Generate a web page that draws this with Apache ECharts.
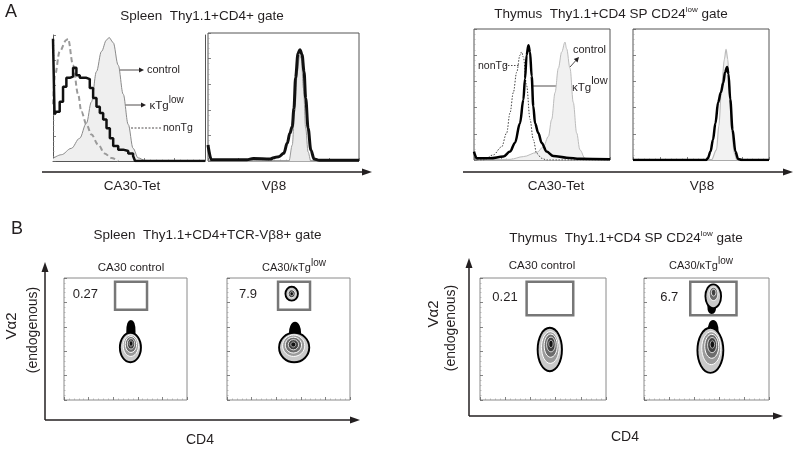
<!DOCTYPE html>
<html><head><meta charset="utf-8">
<script src="https://cdn.jsdelivr.net/npm/echarts@6/dist/echarts.min.js"></script>
<style>html,body{margin:0;padding:0;background:#fff}#c{width:800px;height:451px}</style>
</head><body><div id="c"></div>
<script>
// ---------------- DATA ----------------
// Panel A: histograms, [channel (0-100), % of max]
const spleenTetControl = [[0,2],[5.5,5],[12,10],[17.5,18],[22,30],[25.3,47],[28.6,71],[31.9,87],[35.2,96],[36.9,98],[39.6,94],[42.9,76],[46.2,53],[49.5,29],[52.7,10],[56,2.5],[60.4,0.5],[70,0],[100,0]];
const spleenTetNonTg = [[0,45],[1.3,68],[4.4,87],[8.8,96],[9.9,97],[13.2,76],[16.5,53],[18.7,39],[22,29],[25.3,21],[29.7,13],[34,6],[38.5,2.4],[42.9,0]];
const spleenTetKtg = [[0,97],[1,37],[2.2,39],[4.4,47],[6.6,59],[8.8,66],[11,67],[13.2,74],[15.4,68],[17.6,66],[19.8,66],[22,65],[24.2,58],[26.4,50],[28.6,43],[30.8,38],[33,33],[35.2,26],[37.4,18],[39.6,12],[42.9,9],[46.2,8],[49.5,6],[52.7,4],[54,0],[100,0]];
const spleenVb8Control = [[0,0],[53.6,0],[55.8,12.5],[57.4,38.6],[59.2,70],[60.7,83],[61.8,80],[63.2,57],[64.7,25.6],[66.3,7],[68.1,0],[100,0]];
const spleenVb8Ktg = [[0,12.5],[2.2,1],[25.7,1],[30,2],[41.3,1.5],[43.5,2.6],[46.9,3.4],[50.2,6],[52.5,14],[54.2,21.7],[55.8,27],[56.9,41],[58,65],[59.6,84],[60.9,87],[62.3,83],[63.6,70],[64.7,49],[66.3,25.6],[68.1,8.6],[70.3,1.5],[73.7,0.5],[100,0.5]];
const thymusTetControl = [[0,0],[26.5,0.5],[36.3,2.6],[46.1,5.7],[51,10],[54.7,18],[57.1,31],[59.6,51.5],[62,70],[64.5,82.5],[66.9,90],[68.1,85],[70.6,70],[73,44],[75.5,20.6],[77.9,7.7],[81.6,1.3],[85.3,0],[100,0]];
const thymusTetNonTg = [[0,0],[6.9,0],[14.2,3.9],[20.3,10],[24,20.6],[26.5,36],[28.9,51.5],[31.4,67],[33.8,80],[35,82.5],[36.3,78.6],[38.7,56.7],[41.2,31],[43.6,15.5],[46.1,5],[49.8,1.3],[53.4,0],[100,0]];
const thymusTetKtg = [[0,6.4],[2,1.3],[11.8,1.3],[21.6,2.6],[26.5,6.4],[30.1,13],[33.8,28],[36.3,46],[37.5,62],[38.7,80],[40,87.6],[41.2,82.5],[42.4,64],[43.6,41],[44.9,28],[47.3,20.6],[49.8,13],[53.4,6.4],[58.3,3.1],[68.1,1.8],[77.9,1],[100,0.5]];
const thymusVb8Control = [[0,0],[57.6,0],[61.4,7.7],[63.1,25.8],[65.2,56.7],[67.2,77],[68.4,84.5],[69.7,77],[71,51.5],[72.7,20.6],[74.5,5],[76.5,0],[100,0]];
const thymusVb8Ktg = [[0,0],[53.8,0],[55,1.3],[57,6.4],[58.8,15.5],[60.6,28],[62.6,44],[64.6,51.5],[66.4,59],[67.7,67],[69.2,71],[70.2,65.7],[71.5,46.4],[73.2,23],[75.3,6.4],[77.3,0.8],[80.3,0],[100,0]];

// Panel B: density contours [cx, cy, rx, ry, level]  (0 = outer outline, 1 = outer fill, 2-5 inner levels)
const spleenCtrlContours = [[54.4,56,2.2,8,0],[54,43,7.8,11.3,0],[54,43,7.8,11.3,1],[54.3,44.5,6.2,8.8,2],[54.4,45.5,4.6,6.5,3],[54.5,46,3,4.3,4],[54.5,46.3,1.5,2.2,5]];
const spleenKtgContours = [[55.3,55,3.4,7.5,0],[54.6,43,11.5,11.3,0],[54.6,43,11.5,11.3,1],[54.2,44.5,9,8.8,2],[54,45,6.6,6.5,3],[54,45.3,4.2,4.2,4],[53.9,45.5,2,2,5],[52.6,87.1,4.3,4.9,0],[52.6,87.1,4.3,4.9,1],[52.6,87.1,2.8,3.2,4],[52.6,87.1,1.4,1.6,5]];
const thymusCtrlContours = [[55.4,41.4,8.9,17,0],[55.4,41.4,8.9,17,1],[55.8,43,7,13,2],[56.1,44.5,5.2,9.5,3],[56.3,45.5,3.4,6,4],[56.3,46,1.7,3,5]];
const thymusKtgContours = [[55.3,57,2.8,7,0],[53.1,40.7,9.6,17.7,0],[53.1,40.7,9.6,17.7,1],[53.8,42.5,7.6,13.5,2],[54.2,44,5.6,9.8,3],[54.5,45,3.6,6.2,4],[54.7,45.5,1.8,3,5],[54.2,77,2,5,0],[55.4,85,5.5,9,0],[55.4,85,5.5,9,1],[55.6,87,3.5,5.5,3],[55.7,88,1.8,2.8,4]];
// gates [x1, y1, x2, y2] and gate frequencies
const spleenGate = [41.5,74,67.5,97];
const thymusGate = [37,69.5,74,97];
const gateFreq = ['0.27','7.9','0.21','6.7'];

// ---------------- HELPERS ----------------
const FONT = '"Liberation Sans", Arial, Helvetica, sans-serif';
const INK = '#231f20';
const mctx = document.createElement('canvas').getContext('2d');
function textW(s,size){ mctx.font = size+'px '+FONT; return mctx.measureText(s).width; }
function txt(x,y,s,size,align,extra){
  align = align||'center';
  return Object.assign({type:'text', x:x, y:y, silent:true, style:{text:s, fontSize:size, fontFamily:FONT, fill:INK, align:align, textAlign:align, verticalAlign:'middle', textVerticalAlign:'middle'}}, extra||{});
}
function multi(cx,y,parts,anchor){
  const ws = parts.map(p=>textW(p[0],p[1]));
  const total = ws.reduce((a,b)=>a+b,0);
  let x = anchor==='left' ? cx : cx-total/2;
  return parts.map((p,i)=>{ const e = txt(x, y+(p[2]||0), p[0], p[1], 'left'); x += ws[i]; return e; });
}
function arrow(x1,y1,x2,y2,lw,head,hw){
  const a = Math.atan2(y2-y1,x2-x1);
  const bx = x2-head*Math.cos(a), by = y2-head*Math.sin(a);
  const px = -Math.sin(a)*hw/2, py = Math.cos(a)*hw/2;
  return [
    {type:'line', silent:true, shape:{x1:x1,y1:y1,x2:bx+0.5*Math.cos(a),y2:by+0.5*Math.sin(a)}, style:{stroke:INK, lineWidth:lw}},
    {type:'polygon', silent:true, shape:{points:[[x2,y2],[bx+px,by+py],[bx-px,by-py]]}, style:{fill:INK}}
  ];
}

// ---------------- LAYOUT ----------------
const grids = [
  {left:53, top:35, width:152, height:126},
  {left:208, top:33, width:151, height:128},
  {left:474, top:29, width:136, height:131},
  {left:633, top:29, width:136, height:131},
  {left:64, top:278, width:123, height:122},
  {left:227, top:278, width:123, height:122},
  {left:480, top:278, width:126, height:122},
  {left:644, top:278, width:125, height:122}
].map((g,i)=>Object.assign(g,{show:i>0, borderColor:i<4?'#555':'#8a8a8a', borderWidth:1, containLabel:false}));

function axis(i,dir){
  return {gridIndex:i, type:'value', min:0, max:100, interval:20, position: dir==='x'?'bottom':'left',
    axisLine:{show:i===0, onZero:false, lineStyle:{color:'#555', width:1}},
    axisTick:{show:true, inside:true, length:3, lineStyle:{color:'#666', width:0.8}},
    minorTick:{show:true, splitNumber:5, length:1.5, lineStyle:{color:'#999', width:0.6}},
    axisLabel:{show:false}, splitLine:{show:false}, minorSplitLine:{show:false}};
}
const xAxes = grids.map((g,i)=>axis(i,'x'));
const yAxes = grids.map((g,i)=>axis(i,'y'));
yAxes.push({gridIndex:0, type:'value', min:0, max:100, position:'right', axisLine:{show:true, onZero:false, lineStyle:{color:'#555', width:1}}, axisTick:{show:false}, axisLabel:{show:false}, splitLine:{show:false}});

function hist(i,data,style){
  return Object.assign({type:'line', xAxisIndex:i, yAxisIndex:i, data:data, showSymbol:false, symbol:'none', silent:true, smooth:0.35, smoothMonotone:'x'}, style);
}
const LEVELS = {
  '0':{fill:'#000', stroke:'#000', lw:3.8},
  '1':{fill:'#c9c9c9', stroke:null, lw:0},
  '2':{fill:'#9a9a9a', stroke:'#fff', lw:1},
  '3':{fill:'#6c6c6c', stroke:'#fff', lw:1},
  '4':{fill:'#404040', stroke:'#fff', lw:0.8},
  '5':{fill:'#121212', stroke:'#fff', lw:0.6}
};
function contourSeries(i,data){
  return {type:'custom', xAxisIndex:i, yAxisIndex:i, data:data, silent:true,
    renderItem:function(p,api){
      const c = api.coord([api.value(0),api.value(1)]);
      const s = api.size([api.value(2),api.value(3)]);
      const L = LEVELS[String(api.value(4))];
      return {type:'ellipse', shape:{cx:c[0], cy:c[1], rx:s[0], ry:s[1]}, style:{fill:L.fill, stroke:L.stroke, lineWidth:L.lw}};
    }};
}
function gateSeries(i,gate,label,gap){
  return {type:'custom', xAxisIndex:i, yAxisIndex:i, data:[gate], silent:true, z:5,
    renderItem:function(p,api){
      const a = api.coord([api.value(0),api.value(1)]);
      const b = api.coord([api.value(2),api.value(3)]);
      return {type:'group', children:[
        {type:'rect', shape:{x:a[0], y:b[1], width:b[0]-a[0], height:a[1]-b[1]}, style:{fill:'none', stroke:'#777', lineWidth:2.5}},
        {type:'text', x:a[0]-gap, y:(a[1]+b[1])/2 - 1, style:{text:label, fontSize:13, fontFamily:FONT, fill:INK, align:'right', textAlign:'right', verticalAlign:'middle', textVerticalAlign:'middle'}}
      ]};
    }};
}

const series = [
  hist(0, spleenTetControl, {lineStyle:{color:'#8a8a8a', width:1}, areaStyle:{color:'#efefef', opacity:1}}),
  hist(0, spleenTetNonTg, {lineStyle:{color:'#9a9a9a', width:2, type:[5,3]}}),
  hist(0, spleenTetKtg, {smooth:false, step:'end', lineStyle:{color:'#111', width:2.5}}),
  hist(1, spleenVb8Control, {lineStyle:{color:'#999', width:1}, areaStyle:{color:'#eaeaea', opacity:1}}),
  hist(1, spleenVb8Ktg, {lineStyle:{color:'#111', width:3}}),
  hist(2, thymusTetControl, {lineStyle:{color:'#bbb', width:1}, areaStyle:{color:'#f1f1f1', opacity:1}}),
  hist(2, thymusTetNonTg, {lineStyle:{color:'#444', width:1, type:[1.5,1.5]}}),
  hist(2, thymusTetKtg, {lineStyle:{color:'#000', width:2.5}}),
  hist(3, thymusVb8Control, {lineStyle:{color:'#bbb', width:1.2}, areaStyle:{color:'#f2f2f2', opacity:1}}),
  hist(3, thymusVb8Ktg, {lineStyle:{color:'#000', width:2.5}}),
  contourSeries(4, spleenCtrlContours),
  contourSeries(5, spleenKtgContours),
  contourSeries(6, thymusCtrlContours),
  contourSeries(7, thymusKtgContours),
  gateSeries(4, spleenGate, gateFreq[0], 17),
  gateSeries(5, spleenGate, gateFreq[1], 21),
  gateSeries(6, thymusGate, gateFreq[2], 9),
  gateSeries(7, thymusGate, gateFreq[3], 12)
];

// ---------------- ANNOTATIONS ----------------
const g = [];
g.push(txt(11,12,'A',18));
g.push(txt(202,16,'Spleen  Thy1.1+CD4+ gate',13.5));
g.push(...multi(611,14,[['Thymus  Thy1.1+CD4 SP CD24',13.5,0],['low',8,-4],[' gate',13.5,0]]));
g.push(...arrow(42,172,372,172,1.5,10,7));
g.push(...arrow(463,172,793,172,1.5,10,7));
g.push(txt(132,186,'CA30-Tet',13.5));
g.push(txt(274,186,'V\u03b28',13.5));
g.push(txt(556,186,'CA30-Tet',13.5));
g.push(txt(702,186,'V\u03b28',13.5));
// spleen CA30-Tet labels
g.push(...arrow(116,70,144,70,0.8,5,5));
g.push(txt(147,70,'control',11,'left'));
g.push(...arrow(101,105,146,105,0.8,5,5));
g.push(...multi(149.5,106,[['\u03baTg',11.5,0],['low',10,-6]],'left'));
g.push({type:'line', silent:true, shape:{x1:96,y1:128,x2:161,y2:128}, style:{stroke:INK, lineWidth:0.8, lineDash:[2,1.5]}});
g.push(txt(163,128,'nonTg',10.5,'left'));
// thymus CA30-Tet labels
g.push(txt(478,66,'nonTg',10.5,'left'));
g.push({type:'line', silent:true, shape:{x1:505,y1:65.5,x2:519,y2:65.5}, style:{stroke:INK, lineWidth:0.8, lineDash:[1.5,1.5]}});
g.push(txt(573,50,'control',11,'left'));
g.push(...arrow(570,67,579,57,0.8,5,5));
g.push(...arrow(533,86,569,86,0.8,5,5));
g.push(...multi(572,88,[['\u03baTg',11.5,0],['low',11,-7]],'left'));
// Panel B
g.push(txt(17,229,'B',18));
g.push(txt(207.5,235,'Spleen  Thy1.1+CD4+TCR-V\u03b28+ gate',13.5));
g.push(...multi(626,238,[['Thymus  Thy1.1+CD4 SP CD24',13.5,0],['low',8,-4],[' gate',13.5,0]]));
g.push(...arrow(45,420,45,262,1.5,10,7));
g.push(...arrow(45,420,360,420,1.5,10,7));
g.push(...arrow(469,416,469,258,1.5,10,7));
g.push(...arrow(469,416,783,416,1.5,10,7));
g.push(txt(131,268,'CA30 control',11.5));
g.push(...multi(294,268,[['CA30/\u03baTg',11,0],['low',10,-5]]));
g.push(txt(542,266,'CA30 control',11.5));
g.push(...multi(701,266,[['CA30/\u03baTg',11,0],['low',10,-5]]));
g.push(txt(12,326,'V\u03b12',15,'center',{rotation:Math.PI/2}));
g.push(txt(33,330,'(endogenous)',14,'center',{rotation:Math.PI/2}));
g.push(txt(434,314,'V\u03b12',15,'center',{rotation:Math.PI/2}));
g.push(txt(451.5,328,'(endogenous)',14,'center',{rotation:Math.PI/2}));
g.push(txt(200,440,'CD4',14));
g.push(txt(625,437,'CD4',14));

const chart = echarts.init(document.getElementById('c'), null, {renderer:'canvas'});
chart.setOption({
  animation:false,
  backgroundColor:'#fff',
  grid:grids, xAxis:xAxes, yAxis:yAxes,
  series:series,
  graphic:{elements:g}
});
</script>
</body></html>
